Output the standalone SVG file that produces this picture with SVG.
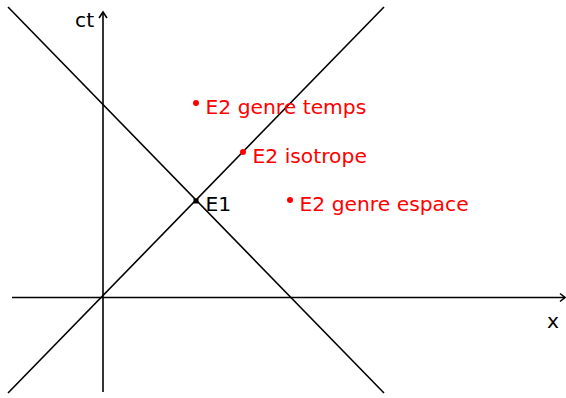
<svg xmlns="http://www.w3.org/2000/svg" width="566" height="398" viewBox="0 0 566 398">
<style>
.ln{stroke:#000;stroke-width:1.6;fill:none}
.t{font-family:"DejaVu Sans",sans-serif;font-size:20.3px}
.r{fill:#f00}
</style>
<rect width="566" height="398" fill="#fff"/>
<g id="connectors">
<line class="ln" x1="12" y1="297.5" x2="565" y2="297.5"/>
<polyline class="ln" points="560,293.5 565,297.5 560,301.5"/>
<line class="ln" x1="103" y1="392" x2="103" y2="12"/>
<polyline class="ln" points="99,18 103,12 107,18"/>
<line class="ln" x1="8" y1="393" x2="384" y2="7"/>
<line class="ln" x1="8" y1="7" x2="384" y2="393"/>
</g>
<g id="ct"><text class="t" x="75" y="27">ct</text></g>
<g id="x"><text class="t" x="547" y="328">x</text></g>
<g id="E1"><rect x="193.5" y="198.5" width="5" height="5" fill="#000"/><text class="t" x="205.5" y="211">E1</text></g>
<g id="E2temps"><circle class="r" cx="196" cy="103" r="3"/><text class="t r" x="205.5" y="114">E2 genre temps</text></g>
<g id="E2iso"><circle class="r" cx="243" cy="152" r="3"/><text class="t r" x="252.5" y="162.5">E2 isotrope</text></g>
<g id="E2espace"><circle class="r" cx="290" cy="200" r="3"/><text class="t r" x="299.5" y="211">E2 genre espace</text></g>
</svg>
